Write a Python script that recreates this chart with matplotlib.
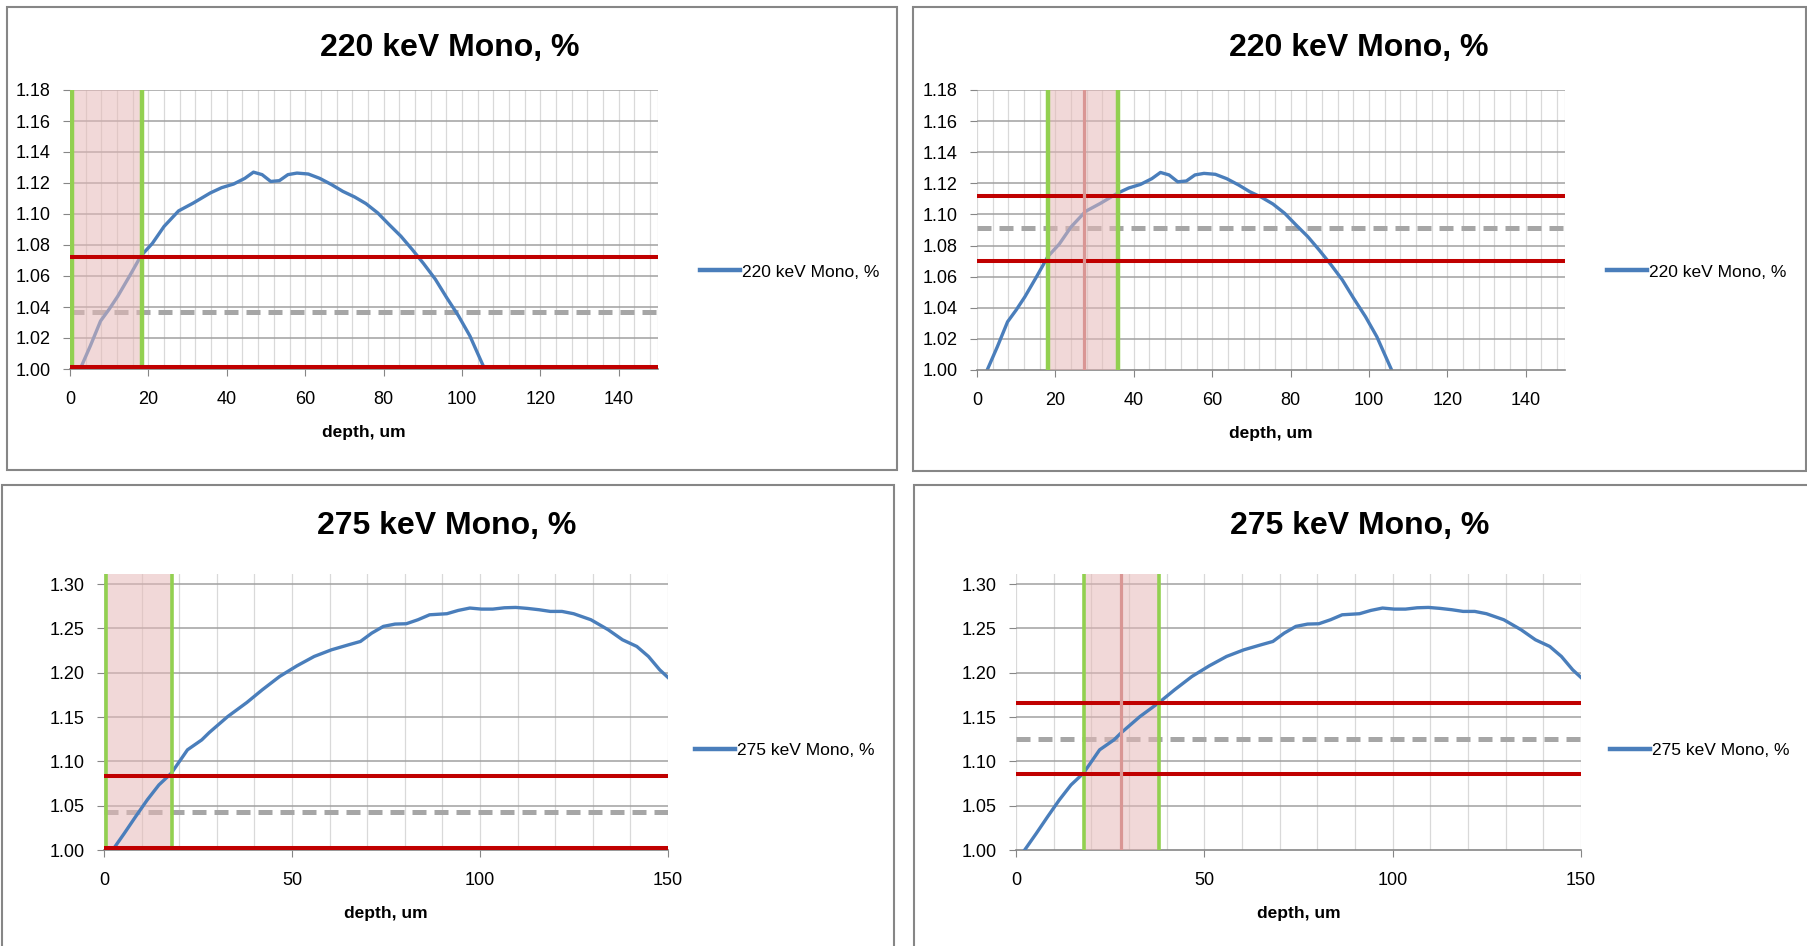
import matplotlib
matplotlib.use("Agg")
import matplotlib.pyplot as plt
from matplotlib.patches import Rectangle
from matplotlib.lines import Line2D

plt.rcParams['font.family'] = ['Liberation Sans', 'DejaVu Sans']

# 220 keV curve (depth in um, relative value)
depth_220 = [2.6, 5.2, 7.8, 10.0, 12.2, 15.2, 18.1, 21.0, 24.0, 27.7, 31.4, 35.8,
             38.7, 41.7, 44.6, 46.8, 49.0, 51.2, 53.4, 55.6, 57.9, 60.8, 63.7,
             66.7, 69.6, 72.6, 75.5, 78.5, 81.4, 84.4, 87.3, 90.2, 93.2, 96.1,
             99.1, 102.0, 105.7]
pct_220 = [1.000, 1.015, 1.031, 1.0386, 1.047, 1.060, 1.073, 1.081, 1.092, 1.102,
           1.107, 1.1136, 1.117, 1.1193, 1.123, 1.127, 1.1254, 1.121, 1.1215,
           1.1254, 1.1264, 1.1258, 1.123, 1.119, 1.1146, 1.111, 1.1067, 1.1007,
           1.0932, 1.0857, 1.0771, 1.068, 1.0579, 1.046, 1.0343, 1.0214, 1.0004]

# 275 keV curve
depth_275 = [2.3, 5.4, 8.4, 11.5, 14.6, 17.9, 22.2, 26.0, 28.0, 32.9, 38.0, 42.1,
             46.7, 51.3, 55.9, 60.5, 65.1, 68.2, 71.2, 74.3, 77.4, 80.4, 83.5,
             86.6, 91.2, 94.2, 97.3, 100.4, 103.4, 106.5, 109.5, 112.6, 115.7,
             118.7, 121.8, 124.9, 129.5, 134.1, 137.9, 141.7, 144.8, 147.8, 150.0]
pct_275 = [1.000, 1.0188, 1.0376, 1.0565, 1.0734, 1.0866, 1.113, 1.1242, 1.1325,
           1.1505, 1.1664, 1.1807, 1.1957, 1.2077, 1.2183, 1.2258, 1.2315, 1.2352,
           1.2446, 1.2522, 1.2548, 1.2552, 1.2597, 1.2653, 1.2665, 1.2702, 1.2729,
           1.2717, 1.2717, 1.2732, 1.2736, 1.2725, 1.271, 1.2691, 1.2691, 1.2665,
           1.2597, 1.2484, 1.2371, 1.2296, 1.2183, 1.2032, 1.1946]

# window markers per panel: red levels, green depths, centre depth
red_levels = [(1.001, 1.0725), (1.070, 1.112), (1.002, 1.084), (1.0854, 1.1655)]
green_depths = [(0.5, 18.3), (18.0, 36.0), (0.5, 18.0), (18.0, 38.0)]
centre_depths = [None, 27.3, None, 28.0]

titles = ["220 keV Mono, %", "220 keV Mono, %", "275 keV Mono, %", "275 keV Mono, %"]

BLUE = "#4A7EBB"
RED = "#C00000"
GREEN = "#92D050"
GREY_DASH = "#A6A6A6"
SHADE = "#E6B9B8"
CENTRE = "#D99694"
AXIS_GREY = "#868686"

W, H = 1808, 946
fig = plt.figure(figsize=(W / 100, H / 100), dpi=100)


def px_rect(left, top, right, bottom):
    return [left / W, 1 - bottom / H, (right - left) / W, (bottom - top) / H]


# panel frames
for l, t, r, b in [(7, 7, 897, 470), (913, 7, 1806, 471), (2, 485, 894, 960), (914, 485, 1815, 960)]:
    fig.patches.append(Rectangle((l / W, 1 - b / H), (r - l) / W, (b - t) / H,
                                 transform=fig.transFigure, fill=False,
                                 edgecolor=AXIS_GREY, lw=1.5))

axes_px = [(70, 90, 658, 369), (977, 90, 1565, 370), (104, 574, 668, 850), (1016, 574, 1581, 850)]
title_pos = [(450, 48), (1359, 48), (447, 526), (1360, 526)]
legend_pos = [(700, 272), (1607, 272), (695, 750), (1610, 750)]


def draw_panel(i, depth, vals, top_row):
    ax = fig.add_axes(px_rect(*axes_px[i]))
    ax.set_xlim(0, 150)
    if top_row:
        ax.set_ylim(1.0, 1.18)
        yt = [1.00 + 0.02 * k for k in range(10)]
        xt = list(range(0, 141, 20))
        xgrid = list(range(0, 150, 4)) + [150]
        gw, label = 3.2, "220 keV Mono, %"
    else:
        ax.set_ylim(1.0, 1.3113)
        yt = [1.00 + 0.05 * k for k in range(7)]
        xt = [0, 50, 100, 150]
        xgrid = list(range(0, 151, 10))
        gw, label = 2.6, "275 keV Mono, %"

    ax.set_yticks(yt)
    ax.set_yticklabels([f"{v:.2f}" for v in yt])
    ax.set_xticks(xt)
    for s in ["top", "right", "left"]:
        ax.spines[s].set_visible(False)
    ax.spines["bottom"].set_color(AXIS_GREY)
    ax.spines["bottom"].set_linewidth(1.2)
    ax.tick_params(axis="x", direction="out", length=5, color=AXIS_GREY, pad=11, labelsize=13)
    ax.tick_params(axis="y", direction="out", length=5, color=AXIS_GREY, pad=9, labelsize=13)

    for x in xgrid:
        ax.axvline(x, color="#D9D9D9", lw=0.9, zorder=0)
    for y in yt[1:]:
        ax.axhline(y, color="#A0A0A0", lw=1.1, zorder=0)

    lo, hi = red_levels[i]
    g0, g1 = green_depths[i]
    mid = (lo + hi) / 2

    ax.axhline(mid, color=GREY_DASH, lw=3.6, dashes=(2.8, 1.6), zorder=2)
    ax.plot(depth, vals, color=BLUE, lw=2.4, zorder=2 if top_row else 4)
    ax.axvspan(g0, g1, color=SHADE, alpha=0.55, lw=0, zorder=3)
    ax.axvline(g0, color=GREEN, lw=gw, zorder=5)
    ax.axvline(g1, color=GREEN, lw=gw, zorder=5)
    ax.axhline(lo, color=RED, lw=2.9, zorder=6)
    ax.axhline(hi, color=RED, lw=2.9, zorder=6)
    if centre_depths[i] is not None:
        ax.axvline(centre_depths[i], color=CENTRE, lw=2.3, zorder=7)

    ax.set_xlabel("depth, um", fontsize=12.5, fontweight="bold", labelpad=12)

    tx, ty = title_pos[i]
    fig.text(tx / W, 1 - ty / H, titles[i], ha="center", va="center",
             fontsize=23, fontweight="bold")

    lx, ly = legend_pos[i]
    handle = Line2D([], [], color=BLUE, lw=3.2)
    ax.legend([handle], [label], loc="center left", bbox_to_anchor=(lx / W, 1 - ly / H),
              bbox_transform=fig.transFigure, frameon=False, fontsize=12.5,
              handlelength=2.3, handletextpad=0.1, borderpad=0, borderaxespad=0)


draw_panel(0, depth_220, pct_220, True)
draw_panel(1, depth_220, pct_220, True)
draw_panel(2, depth_275, pct_275, False)
draw_panel(3, depth_275, pct_275, False)

fig.savefig("out.png", dpi=100)
